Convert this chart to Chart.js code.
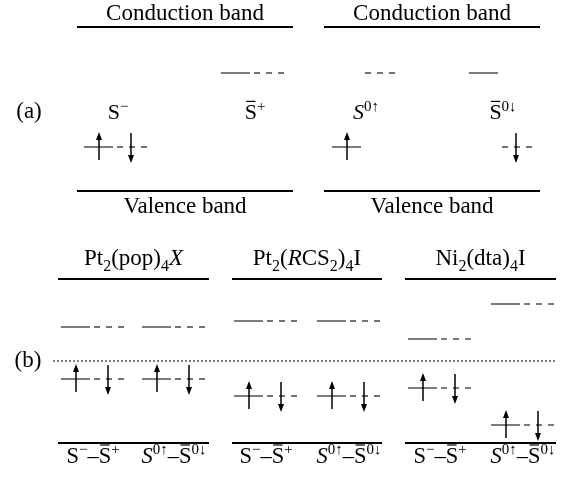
<!DOCTYPE html>
<html>
<head>
<meta charset="utf-8">
<script src="https://cdn.jsdelivr.net/npm/chart.js@4.4.1/dist/chart.umd.min.js"></script>
<style>
  html, body { margin: 0; padding: 0; background: #fff; }
  canvas { display: block; }
</style>
</head>
<body>
<canvas id="grafico" width="572" height="477"></canvas>
<script>
// ---- datos: panel (a) ----
const bandasA = ['Conduction band', 'Conduction band'];
const valenciaA = ['Valence band', 'Valence band'];
const cajasA = [[77, 293], [324, 540]];          // extension horizontal de cada caja
const bordesA = [450, 286];                      // energia: banda de conduccion, banda de valencia
const estadosA = ['S^{−}', '\\bar{S}^{+}', '\\it{S}^{0↑}', '\\bar{S}^{0↓}'];
const columnasA = [84, 221, 332, 469];
const nivelLlenoA = [330, 404, 330, 404];        // nivel continuo (espin arriba)
const nivelGuionA = [330, 404, 404, 330];        // nivel discontinuo (espin abajo)
const flechaArribaA = [true, false, true, false];
const flechaAbajoA = [true, false, false, true];

// ---- datos: panel (b) ----
const compuestosB = ['Pt_{2}(pop)_{4}\\it{X}', 'Pt_{2}(\\it{R}CS_{2})_{4}I', 'Ni_{2}(dta)_{4}I'];
const parejasB = ['S^{−}–\\bar{S}^{+}', '\\it{S}^{0↑}–\\bar{S}^{0↓}'];
const cajasB = [[58, 209], [232, 382], [405, 556]];
const bordesB = [198, 34];
const mitadGapB = 116;                           // linea punteada
const columnasB = [[61, 142], [234, 317], [408, 491]];
const nivelVacioB = [[34, 34], [40, 40], [22, 57]];      // relativo a la mitad del gap
const nivelOcupadoB = [[-18, -18], [-35, -35], [-27, -64]];

const NEGRO = '#000';
const GRIS = '#444';
const FUENTE = '"Liberation Serif", "Times New Roman", serif';

// ---- construir datasets ----
const datasets = [];
const flechas = [];
const textos = [];

function linea(x1, x2, y, color, ancho, dash) {
    datasets.push({
        data: [{ x: x1, y: y }, { x: x2, y: y }],
        showLine: true,
        borderColor: color,
        borderWidth: ancho,
        borderDash: dash || [],
        borderCapStyle: 'butt',
        pointRadius: 0
    });
}

function nivel(x0, yLleno, yGuion, arriba, abajo) {
    linea(x0, x0 + 29, yLleno, GRIS, 1.4);
    linea(x0 + 33, x0 + 63, yGuion, GRIS, 1.4, [6, 6]);
    if (arriba) flechas.push({ x: x0 + 15, desde: yLleno - 13, hasta: yLleno + 15 });
    if (abajo) flechas.push({ x: x0 + 47, desde: yGuion + 14, hasta: yGuion - 16 });
}

cajasA.forEach((c, i) => {
    linea(c[0], c[1], bordesA[0], NEGRO, 2);
    linea(c[0], c[1], bordesA[1], NEGRO, 2);
    textos.push({ s: bandasA[i], x: (c[0] + c[1]) / 2, y: bordesA[0] + 7, size: 23 });
    textos.push({ s: valenciaA[i], x: (c[0] + c[1]) / 2, y: bordesA[1] - 22, size: 23 });
});
columnasA.forEach((x0, i) => {
    nivel(x0, nivelLlenoA[i], nivelGuionA[i], flechaArribaA[i], flechaAbajoA[i]);
    textos.push({ s: estadosA[i], x: x0 + 34, y: 358, size: 22 });
});
textos.push({ s: '(a)', x: 29, y: 359, size: 23 });

linea(53, 556, mitadGapB, NEGRO, 1, [2, 2]);
cajasB.forEach((c, g) => {
    linea(c[0], c[1], bordesB[0], NEGRO, 2);
    linea(c[0], c[1], bordesB[1], NEGRO, 2);
    textos.push({ s: compuestosB[g], x: (c[0] + c[1]) / 2, y: bordesB[0] + 14, size: 23 });
    columnasB[g].forEach((x0, k) => {
        const vac = mitadGapB + nivelVacioB[g][k];
        const ocu = mitadGapB + nivelOcupadoB[g][k];
        nivel(x0, vac, vac, false, false);
        nivel(x0, ocu, ocu, true, true);
        textos.push({ s: parejasB[k], x: x0 + 32, y: 14, size: 22.5 });
    });
});
textos.push({ s: '(b)', x: 28, y: 110, size: 23 });

// ---- texto con sub/superindices ----
function trocear(s) {
    const partes = [];
    const re = /(_\{[^}]*\}|\^\{[^}]*\}|\\bar\{[^}]*\}|\\it\{[^}]*\})/;
    s.split(re).forEach(p => {
        if (!p) return;
        const m = p.match(/^(_|\^|\\bar|\\it)\{([^}]*)\}$/);
        if (!m) partes.push({ t: p });
        else if (m[1] === '_') partes.push({ t: m[2], sub: true });
        else if (m[1] === '^') partes.push({ t: m[2], sup: true });
        else if (m[1] === '\\bar') partes.push({ t: m[2], bar: true });
        else partes.push({ t: m[2], it: true });
    });
    return partes;
}

function fuente(p, size) {
    const sz = (p.sub || p.sup) ? Math.round(size * 0.68) : size;
    return (p.it ? 'italic ' : '') + sz + 'px ' + FUENTE;
}

const pluginTextos = {
    id: 'textos',
    afterDraw(chart) {
        const ctx = chart.ctx;
        const sx = chart.scales.x, sy = chart.scales.y;
        ctx.save();
        ctx.fillStyle = NEGRO;
        ctx.strokeStyle = NEGRO;
        ctx.textBaseline = 'alphabetic';
        ctx.textAlign = 'left';
        textos.forEach(tx => {
            const partes = trocear(tx.s);
            let ancho = 0;
            partes.forEach(p => { ctx.font = fuente(p, tx.size); p.w = ctx.measureText(p.t).width; ancho += p.w; });
            let x = sx.getPixelForValue(tx.x) - ancho / 2;
            const base = sy.getPixelForValue(tx.y);
            partes.forEach(p => {
                ctx.font = fuente(p, tx.size);
                let y = base;
                if (p.sub) y += tx.size * 0.24;
                if (p.sup) y -= tx.size * 0.38;
                ctx.fillText(p.t, x, y);
                if (p.bar) {
                    ctx.lineWidth = 1.2;
                    ctx.beginPath();
                    ctx.moveTo(x + 1.5, base - tx.size * 0.8);
                    ctx.lineTo(x + p.w - 1.5, base - tx.size * 0.8);
                    ctx.stroke();
                }
                x += p.w;
            });
        });
        ctx.restore();
    }
};

const pluginFlechas = {
    id: 'flechas',
    afterDatasetsDraw(chart) {
        const ctx = chart.ctx;
        const sx = chart.scales.x, sy = chart.scales.y;
        ctx.save();
        ctx.strokeStyle = NEGRO;
        ctx.fillStyle = NEGRO;
        ctx.lineWidth = 1.5;
        flechas.forEach(f => {
            const x = sx.getPixelForValue(f.x);
            const y1 = sy.getPixelForValue(f.desde);
            const y2 = sy.getPixelForValue(f.hasta);
            const dir = Math.sign(y2 - y1);
            ctx.beginPath();
            ctx.moveTo(x, y1);
            ctx.lineTo(x, y2 - dir * 6);
            ctx.stroke();
            ctx.beginPath();
            ctx.moveTo(x, y2);
            ctx.lineTo(x - 3, y2 - dir * 8);
            ctx.lineTo(x + 3, y2 - dir * 8);
            ctx.closePath();
            ctx.fill();
        });
        ctx.restore();
    }
};

new Chart(document.getElementById('grafico'), {
    type: 'scatter',
    data: { datasets: datasets },
    options: {
        responsive: false,
        animation: false,
        devicePixelRatio: 1,
        layout: { padding: 0 },
        plugins: { legend: { display: false }, tooltip: { enabled: false } },
        scales: {
            x: { type: 'linear', min: 0, max: 572, display: false },
            y: { type: 'linear', min: 0, max: 477, display: false }
        }
    },
    plugins: [pluginFlechas, pluginTextos]
});
</script>
</body>
</html>
